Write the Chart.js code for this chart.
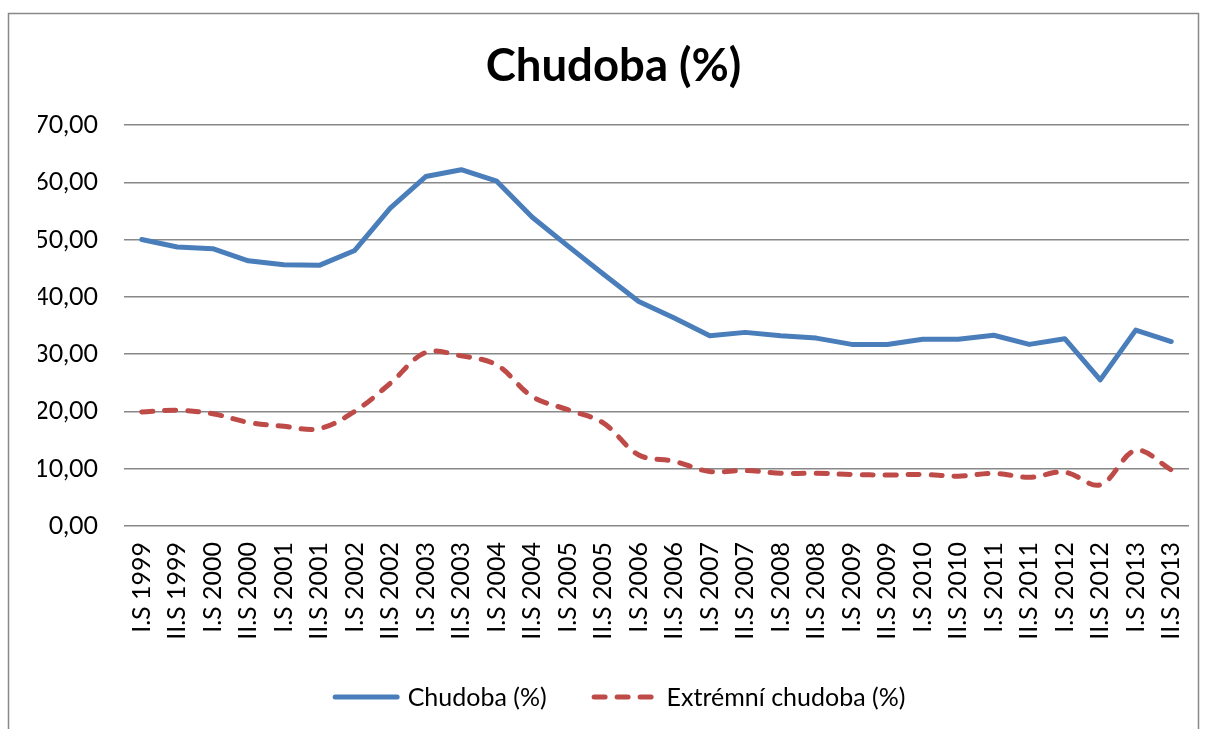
<!DOCTYPE html>
<html>
<head>
<meta charset="utf-8">
<script src="https://cdn.jsdelivr.net/npm/chart.js@4.4.1/dist/chart.umd.min.js"></script>
<style>
  html, body { margin: 0; padding: 0; background: #ffffff; }
  #wrap { width: 1206px; height: 729px; position: relative; }
</style>
</head>
<body>
<div id="wrap"><canvas id="c" width="1206" height="729"></canvas></div>
<script>
const categories = [
  "I.S 1999", "II.S 1999", "I.S 2000", "II.S 2000", "I.S 2001", "II.S 2001",
  "I.S 2002", "II.S 2002", "I.S 2003", "II.S 2003", "I.S 2004", "II.S 2004",
  "I.S 2005", "II.S 2005", "I.S 2006", "II.S 2006", "I.S 2007", "II.S 2007",
  "I.S 2008", "II.S 2008", "I.S 2009", "II.S 2009", "I.S 2010", "II.S 2010",
  "I.S 2011", "II.S 2011", "I.S 2012", "II.S 2012", "I.S 2013", "II.S 2013"
];
const chudoba = [50.0, 48.7, 48.4, 46.3, 45.6, 45.5, 48.1, 55.5, 61.0, 62.2,
                 60.2, 53.9, 48.9, 44.0, 39.2, 36.3, 33.2, 33.8, 33.2, 32.8,
                 31.7, 31.7, 32.6, 32.6, 33.3, 31.7, 32.7, 25.5, 34.2, 32.2];
const extremniChudoba = [19.9, 20.2, 19.6, 18.1, 17.4, 17.0, 20.0, 24.9, 30.3, 29.7,
                 28.1, 22.6, 20.3, 18.0, 12.4, 11.3, 9.5, 9.7, 9.2, 9.2,
                 9.0, 8.9, 9.0, 8.7, 9.2, 8.5, 9.4, 7.2, 13.2, 9.8];
const seriesNames = ["Chudoba (%)", "Extrémní chudoba (%)"];
const chartTitle = "Chudoba (%)";
const yMin = 0, yMax = 70, yStep = 10;

const FONT = "Lato, 'Open Sans', 'DejaVu Sans', sans-serif";

const borderPlugin = {
  id: 'outerBorder',
  beforeDraw(chart) {
    const ctx = chart.ctx;
    ctx.save();
    ctx.fillStyle = '#ffffff';
    ctx.fillRect(0, 0, chart.width, chart.height);
    ctx.strokeStyle = '#898989';
    ctx.lineWidth = 1.5;
    ctx.strokeRect(8.5, 13.5, 1190, 740);
    ctx.restore();
  }
};

// Legend drawn from the chart's own datasets (line samples with their dash styles)
const lineLegendPlugin = {
  id: 'lineLegend',
  afterDraw(chart) {
    const ctx = chart.ctx;
    const ds = chart.data.datasets;
    const fontSize = 25;
    const sample = 67, gapText = 8, gapItem = 45;
    const cy = 697;
    ctx.save();
    ctx.font = fontSize + 'px ' + FONT;
    const widths = ds.map(d => ctx.measureText(d.label).width);
    let total = 0;
    ds.forEach((d, i) => { total += sample + gapText + widths[i] + (i < ds.length - 1 ? gapItem : 0); });
    let x = 619 - total / 2;
    ds.forEach((d, i) => {
      ctx.beginPath();
      ctx.strokeStyle = d.borderColor;
      ctx.lineWidth = d.borderWidth;
      ctx.lineCap = d.borderCapStyle || 'butt';
      ctx.setLineDash(d.borderDash || []);
      const inset = ctx.lineCap === 'round' ? d.borderWidth / 2 : 0;
      ctx.moveTo(x + inset, cy);
      ctx.lineTo(x + sample - inset, cy);
      ctx.stroke();
      ctx.setLineDash([]);
      ctx.fillStyle = '#000000';
      ctx.textBaseline = 'middle';
      ctx.textAlign = 'left';
      ctx.fillText(d.label, x + sample + gapText, cy + 1);
      x += sample + gapText + widths[i] + gapItem;
    });
    ctx.restore();
  }
};

new Chart(document.getElementById('c'), {
  type: 'line',
  data: {
    labels: categories,
    datasets: [
      {
        label: seriesNames[0],
        data: chudoba,
        borderColor: '#4A7EBB',
        backgroundColor: '#4A7EBB',
        borderWidth: 5,
        pointRadius: 0,
        tension: 0,
        borderCapStyle: 'round',
        borderJoinStyle: 'round',
        fill: false
      },
      {
        label: seriesNames[1],
        data: extremniChudoba,
        borderColor: '#BE4B48',
        backgroundColor: '#BE4B48',
        borderWidth: 5,
        borderDash: [11, 12],
        borderCapStyle: 'round',
        pointRadius: 0,
        tension: 0.35,
        fill: false
      }
    ]
  },
  plugins: [borderPlugin, lineLegendPlugin],
  options: {
    responsive: false,
    animation: false,
    devicePixelRatio: 1,
    layout: { padding: { top: 13, left: 38, right: 17, bottom: 83 } },
    plugins: {
      title: {
        display: true,
        text: chartTitle,
        color: '#000000',
        font: { family: FONT, size: 45.5, weight: 'bold', lineHeight: 1.2 },
        padding: { top: 26, bottom: 31.4 }
      },
      legend: { display: false },
      tooltip: { enabled: false }
    },
    scales: {
      x: {
        offset: true,
        grid: { display: false, drawTicks: false, offset: true },
        border: { display: false },
        ticks: {
          color: '#000000',
          font: { family: FONT, size: 25 },
          maxRotation: 90,
          minRotation: 90,
          autoSkip: false,
          padding: 16
        },
        afterFit(scale) { scale.height = 120; scale.paddingLeft = 0; scale.paddingRight = 0; }
      },
      y: {
        min: yMin,
        max: yMax,
        grid: { color: '#888888', lineWidth: 1.4, drawTicks: false },
        border: { display: false },
        ticks: {
          stepSize: yStep,
          color: '#000000',
          font: { family: FONT, size: 25 },
          padding: 26,
          callback: (v) => v.toFixed(2).replace('.', ',')
        },
        afterFit(scale) { scale.width = 86; }
      }
    }
  }
});
</script>
</body>
</html>
